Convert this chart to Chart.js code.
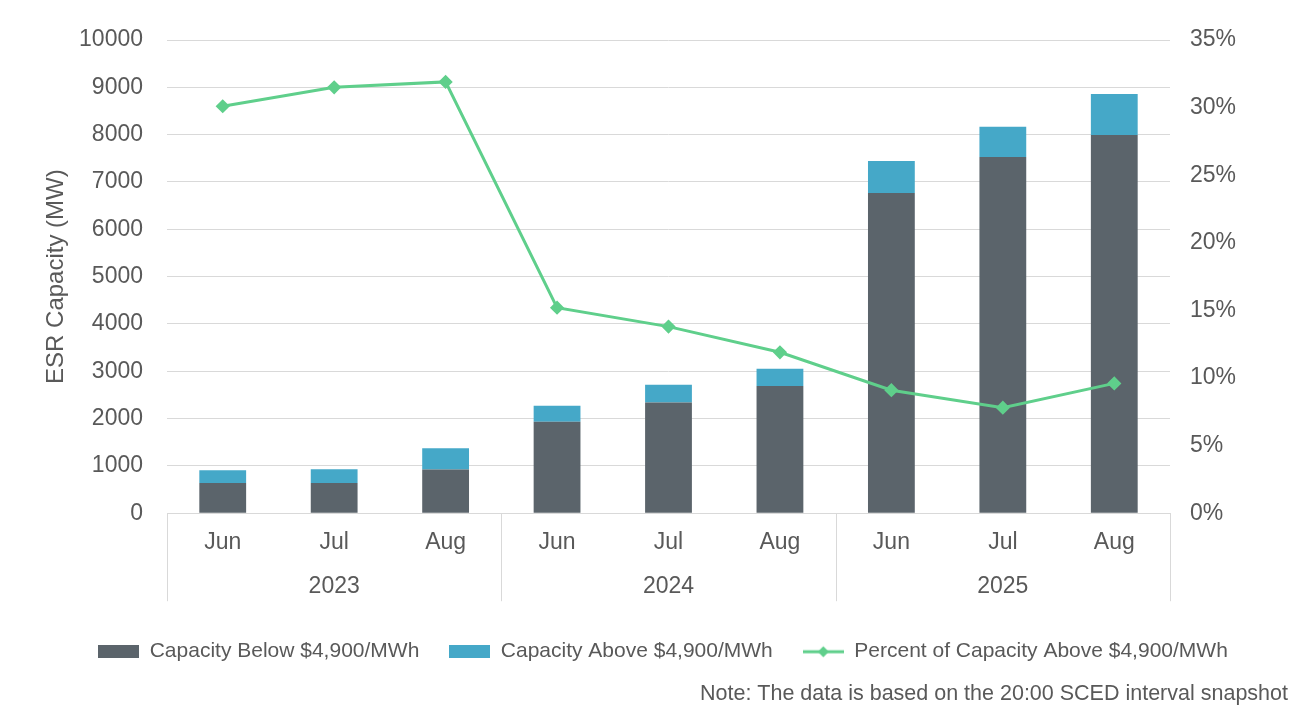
<!DOCTYPE html>
<html lang="en">
<head>
  <meta charset="UTF-8">
  <title>ESR Capacity</title>
  <script src="https://cdn.jsdelivr.net/npm/chart.js"></script>
  <style>
    html, body { margin: 0; padding: 0; background: #fff; }
    #wrap { width: 1300px; height: 714px; }
  </style>
</head>
<body>
  <div id="wrap"><canvas id="esrChart"></canvas></div>

  <script>
    // data
    const months = ['Jun', 'Jul', 'Aug', 'Jun', 'Jul', 'Aug', 'Jun', 'Jul', 'Aug'];
    const years = ['2023', '2024', '2025'];
    const belowValues = [640, 640, 925, 1930, 2340, 2690, 6765, 7530, 7990];
    const aboveValues = [270, 290, 445, 340, 375, 360, 680, 635, 870];
    const percentValues = [30.1, 31.5, 31.9, 15.2, 13.8, 11.9, 9.1, 7.8, 9.6];

    const leftTicks = { min: 0, max: 10000, step: 1000 };
    const rightTicks = { min: 0, max: 35, step: 5 };

    const darkColor = '#5b646b';
    const cyanColor = '#45a8c8';
    const greenColor = '#5fcf8b';
    const textColor = '#595959';
    const fontFamily = '"Liberation Sans", Arial, sans-serif';

    // small canvases used as legend markers
    function boxIcon(color) {
      const c = document.createElement('canvas');
      c.width = 41; c.height = 13;
      const g = c.getContext('2d');
      g.fillStyle = color;
      g.fillRect(0, 0, 41, 13);
      return c;
    }
    function lineIcon(color) {
      const c = document.createElement('canvas');
      c.width = 41; c.height = 14;
      const g = c.getContext('2d');
      g.strokeStyle = color;
      g.lineWidth = 3;
      g.beginPath(); g.moveTo(0, 7); g.lineTo(41, 7); g.stroke();
      g.fillStyle = color;
      g.beginPath(); g.moveTo(20.5, 1.5); g.lineTo(26, 7); g.lineTo(20.5, 12.5); g.lineTo(15, 7); g.closePath(); g.fill();
      return c;
    }
    const legendIcons = [boxIcon(darkColor), boxIcon(cyanColor), lineIcon(greenColor)];

    // vertical separators between the year groups, under the x axis
    const groupLines = {
      id: 'groupLines',
      afterDraw(chart) {
        const x = chart.scales.x;
        const yr = chart.scales.xYear;
        const per = months.length / years.length;
        const ctx = chart.ctx;
        const edges = [chart.chartArea.left];
        for (let i = 1; i < years.length; i++) {
          edges.push((x.getPixelForValue(i * per - 1) + x.getPixelForValue(i * per)) / 2);
        }
        edges.push(chart.chartArea.right);
        const bottom = yr.top + 45;
        ctx.save();
        ctx.strokeStyle = '#d9d9d9';
        ctx.lineWidth = 1;
        edges.forEach(px => {
          ctx.beginPath();
          ctx.moveTo(Math.round(px) + 0.5, chart.chartArea.bottom);
          ctx.lineTo(Math.round(px) + 0.5, bottom);
          ctx.stroke();
        });
        ctx.restore();
      }
    };

    Chart.defaults.font.family = fontFamily;
    Chart.defaults.color = textColor;

    const ctx = document.getElementById('esrChart').getContext('2d');
    new Chart(ctx, {
      data: {
        labels: months,
        datasets: [
          {
            type: 'bar',
            label: 'Capacity Below $4,900/MWh',
            data: belowValues,
            backgroundColor: darkColor,
            yAxisID: 'y',
            stack: 'cap',
            order: 1,
            barPercentage: 0.42,
            categoryPercentage: 1
          },
          {
            type: 'bar',
            label: 'Capacity Above $4,900/MWh',
            data: aboveValues,
            backgroundColor: cyanColor,
            yAxisID: 'y',
            stack: 'cap',
            order: 2,
            barPercentage: 0.42,
            categoryPercentage: 1
          },
          {
            type: 'line',
            label: 'Percent of Capacity Above $4,900/MWh',
            data: percentValues,
            borderColor: greenColor,
            backgroundColor: greenColor,
            borderWidth: 3,
            pointStyle: 'rectRot',
            pointRadius: 5,
            pointHoverRadius: 5,
            tension: 0,
            yAxisID: 'y1',
            order: 0
          }
        ]
      },
      options: {
        responsive: true,
        maintainAspectRatio: false,
        animation: false,
        layout: { padding: { top: 40, left: 38, right: 12, bottom: 6 } },
        scales: {
          x: {
            stacked: true,
            grid: { display: false, drawTicks: false },
            border: { display: true, color: '#d9d9d9' },
            ticks: { font: { size: 23 }, padding: 16 },
            afterFit(scale) { scale.height = 43; }
          },
          xYear: {
            type: 'category',
            labels: years,
            position: 'bottom',
            offset: true,
            grid: { display: false, drawTicks: false },
            border: { display: false },
            ticks: { font: { size: 23 }, padding: 17 },
            afterFit(scale) { scale.height = 55; }
          },
          y: {
            stacked: true,
            position: 'left',
            min: leftTicks.min,
            max: leftTicks.max,
            ticks: { stepSize: leftTicks.step, font: { size: 23 }, padding: 24, callback: v => String(v) },
            grid: { color: '#d9d9d9', drawTicks: false },
            border: { display: false },
            title: { display: true, text: 'ESR Capacity (MW)', font: { size: 24 }, padding: 4 },
            afterFit(scale) { scale.width = 129; }
          },
          y1: {
            position: 'right',
            min: rightTicks.min,
            max: rightTicks.max,
            ticks: { stepSize: rightTicks.step, font: { size: 23 }, padding: 20, callback: v => v + '%' },
            grid: { drawOnChartArea: false, drawTicks: false },
            border: { display: false },
            afterFit(scale) { scale.width = 118; }
          }
        },
        plugins: {
          legend: {
            position: 'bottom',
            labels: {
              font: { size: 21 },
              usePointStyle: true,
              pointStyleWidth: 41,
              boxHeight: 14,
              padding: 30,
              sort: (a, b) => a.datasetIndex - b.datasetIndex,
              generateLabels(chart) {
                const items = Chart.defaults.plugins.legend.labels.generateLabels(chart);
                items.forEach(it => { it.pointStyle = legendIcons[it.datasetIndex]; });
                return items;
              }
            }
          },
          subtitle: {
            display: true,
            position: 'bottom',
            align: 'end',
            text: 'Note: The data is based on the 20:00 SCED interval snapshot',
            font: { size: 21.5 },
            padding: { top: 9, bottom: 1 }
          },
          tooltip: { enabled: false }
        }
      },
      plugins: [groupLines]
    });
  </script>
</body>
</html>
